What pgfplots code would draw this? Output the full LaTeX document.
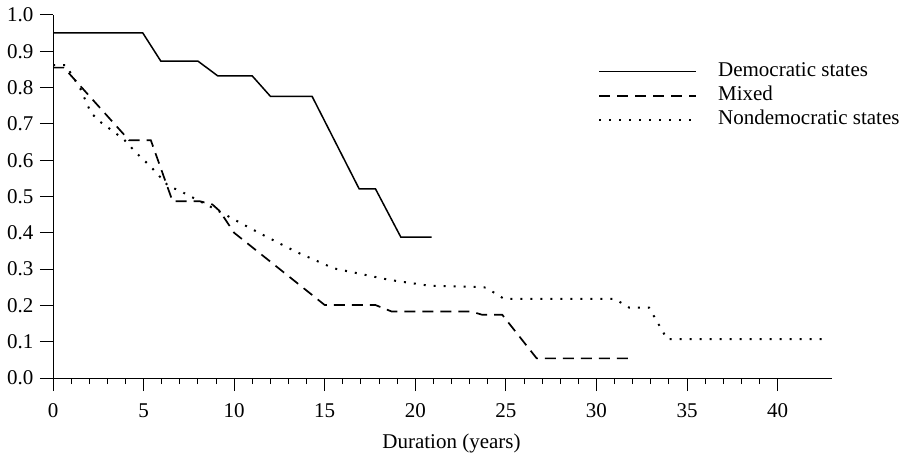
\documentclass[border=0pt]{standalone}
\usepackage{fontspec}
\setmainfont{Liberation Serif}
\usepackage{pgfplots}
\pgfplotsset{compat=1.18}

\begin{document}
\begin{tikzpicture}[font=\fontsize{21bp}{25bp}\selectfont]
\path[use as bounding box] (-53bp,-77bp) rectangle (852bp,378bp);
\begin{axis}[
  scale only axis, width=779bp, height=363bp,
  at={(0,0)}, anchor=south west,
  xmin=0, xmax=43, ymin=0, ymax=1,
  axis lines=left,
  axis line style={-, line width=1bp},
  xtick={0,5,10,15,20,25,30,35,40},
  minor x tick num=4,
  ytick={0,0.1,0.2,0.3,0.4,0.5,0.6,0.7,0.8,0.9,1},
  tick align=outside,
  major tick length=13bp, minor tick length=6bp,
  every tick/.style={black, line width=1bp},
  yticklabel style={xshift=-3bp, /pgf/number format/.cd, fixed, fixed zerofill, precision=1},
  /pgf/number format/assume math mode=true,
  xticklabel style={yshift=-9bp},
  xlabel={Duration (years)},
  xlabel style={at={(axis description cs:0.5,0)}, anchor=base, yshift=-70bp, xshift=9bp},
  legend style={draw=none, fill=none, at={(axis cs:30.08,0.872)}, anchor=north west,
    inner sep=0pt, row sep=4bp,
    nodes={inner sep=0pt, text height=15bp, text depth=5bp}},
  legend cell align=left,
  legend image code/.code={\draw[#1] (0bp,0bp) -- (97bp,0bp); \path (118bp,0bp);},
]
\addplot[black, line width=1.5bp] coordinates {
(0,0.951) (4.95,0.951) (5.95,0.873) (8.0,0.873) (9.1,0.832) (11.0,0.832)
(12.0,0.776) (14.3,0.776) (16.9,0.521) (17.8,0.521) (19.2,0.388) (20.9,0.388)};
\addlegendentry{Democratic states}
\addplot[black, line width=1.7bp, dash pattern=on 11bp off 7bp] coordinates {
(0,0.855) (0.6,0.855) (4.2,0.655) (5.4,0.655) (6.6,0.487) (8.1,0.487)
(8.8,0.478) (9.2,0.46) (10,0.40) (15,0.201) (17.8,0.201) (18.7,0.183)
(23.1,0.183) (23.7,0.174) (24.8,0.174) (26.7,0.054) (31.9,0.054)};
\addlegendentry{Mixed}
\addplot[black, line width=2bp, dash pattern=on 2bp off 8bp] coordinates {
(0,0.862) (0.7,0.862) (1.5,0.798) (2.1,0.73) (2.6,0.706) (3.9,0.658)
(4.6,0.62) (5.4,0.582) (6.35,0.53) (7.1,0.513) (8.5,0.477) (9.5,0.45)
(11.4,0.399) (13.4,0.348) (15.5,0.302) (18.6,0.27) (20.8,0.254) (23.5,0.251)
(23.9,0.249) (24.9,0.218) (31.0,0.218) (31.8,0.194) (32.9,0.194) (33.9,0.107)
(42.8,0.107)};
\addlegendentry{Nondemocratic states}
\end{axis}
\end{tikzpicture}
\end{document}
